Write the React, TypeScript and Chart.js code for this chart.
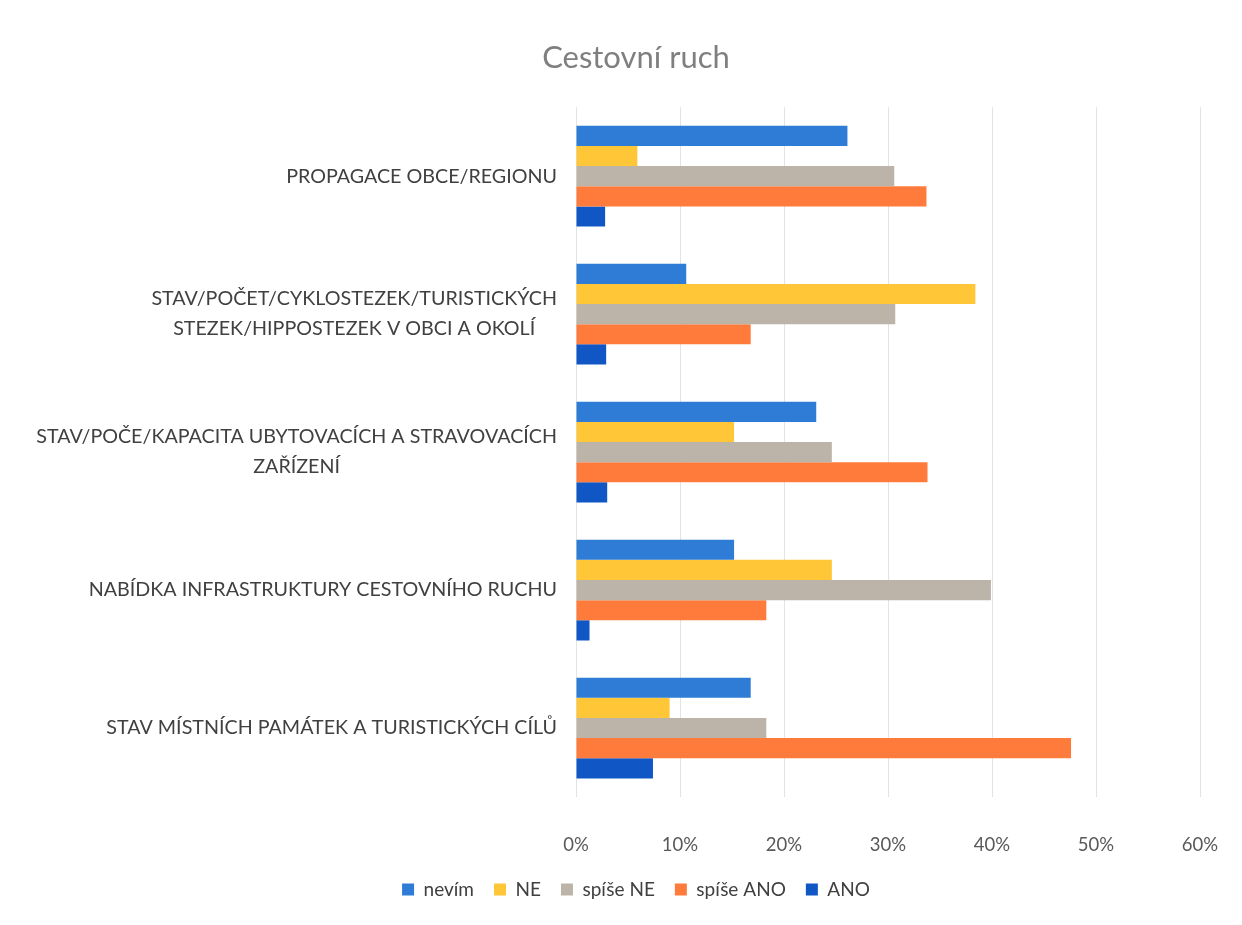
import React, { useEffect, useRef } from "react";
import { Chart, registerables } from "chart.js";

Chart.register(...registerables);

const TITLE = "Cestovní ruch";

const categories: string[][] = [
  ["PROPAGACE OBCE/REGIONU"],
  ["STAV/POČET/CYKLOSTEZEK/TURISTICKÝCH", "STEZEK/HIPPOSTEZEK V OBCI A OKOLÍ"],
  ["STAV/POČE/KAPACITA UBYTOVACÍCH A STRAVOVACÍCH", "ZAŘÍZENÍ"],
  ["NABÍDKA INFRASTRUKTURY CESTOVNÍHO RUCHU"],
  ["STAV MÍSTNÍCH PAMÁTEK A TURISTICKÝCH CÍLŮ"],
];

const seriesNames = ["nevím", "NE", "spíše NE", "spíše ANO", "ANO"];

const nevim = [26.1, 10.6, 23.1, 15.2, 16.8];
const ne = [5.9, 38.4, 15.2, 24.6, 9.0];
const spiseNe = [30.6, 30.7, 24.6, 39.9, 18.3];
const spiseAno = [33.7, 16.8, 33.8, 18.3, 47.6];
const ano = [2.8, 2.9, 3.0, 1.3, 7.4];

const xTicks = [0, 10, 20, 30, 40, 50, 60];

const seriesColors = ["#2E7CD6", "#FFC637", "#BDB4A9", "#FF7B3B", "#1056C4"];

const FONT = "Lato, 'Open Sans', sans-serif";

const yLabelPlugin = {
  id: "yLabelPlugin",
  afterDraw(chart: any) {
    const ctx = chart.ctx;
    const yScale = chart.scales.y;
    const right = chart.chartArea.left - 19;
    const lineHeight = 30;
    ctx.save();
    ctx.font = `19.7px ${FONT}`;
    ctx.fillStyle = "#404040";
    ctx.textAlign = "center";
    ctx.textBaseline = "middle";
    categories.forEach((lines, i) => {
      const yc = yScale.getPixelForValue(i);
      const widths = lines.map((l) => ctx.measureText(l).width);
      const maxW = Math.max(...widths);
      const cx = right - maxW / 2;
      const y0 = yc - ((lines.length - 1) * lineHeight) / 2;
      lines.forEach((l, j) => {
        ctx.fillText(l, cx, y0 + j * lineHeight);
      });
    });
    ctx.restore();
  },
};

export default function App() {
  const ref = useRef<HTMLCanvasElement | null>(null);

  useEffect(() => {
    document.body.style.margin = "0";
    const canvas = ref.current;
    if (!canvas) return;
    const seriesData = [nevim, ne, spiseNe, spiseAno, ano];
    const chart = new Chart(canvas, {
      type: "bar",
      data: {
        labels: categories.map((c) => c.join(" ")),
        datasets: seriesNames.map((name, i) => ({
          label: name,
          data: seriesData[i],
          backgroundColor: seriesColors[i],
          borderWidth: 0,
          barPercentage: 1,
          categoryPercentage: 0.73,
        })),
      },
      options: {
        indexAxis: "y",
        animation: false,
        responsive: false,
        maintainAspectRatio: false,
        layout: { padding: { left: 72, right: 42, top: 0, bottom: 16 } },
        plugins: {
          title: {
            display: true,
            text: TITLE,
            color: "#7F7F7F",
            font: { family: FONT, size: 31, weight: "normal" },
            padding: { top: 39, bottom: 31 },
          },
          legend: {
            display: true,
            position: "bottom",
            labels: {
              color: "#404040",
              font: { family: FONT, size: 19 },
              boxWidth: 12,
              boxHeight: 12,
              padding: 20,
            },
          },
          tooltip: { enabled: false },
        },
        scales: {
          x: {
            type: "linear",
            min: 0,
            max: 60,
            afterBuildTicks: (scale: any) => {
              scale.ticks = xTicks.map((v) => ({ value: v }));
            },
            afterFit: (scale: any) => {
              scale.height = 63;
            },
            ticks: {
              color: "#595959",
              font: { family: FONT, size: 18.5 },
              padding: 0,
              callback: (v: any) => `${v}%`,
            },
            grid: {
              color: "#E3E3E3",
              drawTicks: true,
              tickLength: 37,
              tickColor: "rgba(0,0,0,0)",
            },
            border: { display: false },
          },
          y: {
            type: "category",
            afterFit: (scale: any) => {
              scale.width = 504;
            },
            ticks: { display: false },
            grid: { display: false },
            border: { display: false },
          },
        },
      },
      plugins: [yLabelPlugin],
    } as any);
    return () => chart.destroy();
  }, []);

  return (
    <div style={{ position: "absolute", left: 0, top: 0, width: 1242, height: 925, background: "#fff" }}>
      <canvas ref={ref} width={1242} height={925} style={{ width: 1242, height: 925 }} />
    </div>
  );
}
